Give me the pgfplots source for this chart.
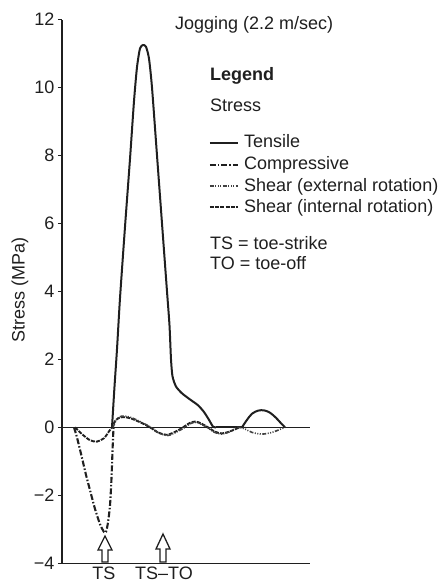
\documentclass[border=0pt]{standalone}
\usepackage{fontspec}
\setmainfont{Liberation Sans}
\usepackage{pgfplots}
\pgfplotsset{compat=1.18}

\definecolor{ink}{gray}{0.12}
\tikzset{
  tens/.style={ink,line width=2bp},
  comp/.style={ink,line width=2.1bp,dash pattern=on 6bp off 2bp on 1.5bp off 2bp},
  shext/.style={ink!85,line width=1.6bp,dash pattern=on 4bp off 1.5bp on 1bp off 1.5bp on 1bp off 1.5bp on 1bp off 1.5bp},
  shint/.style={ink,line width=1.9bp,dash pattern=on 4bp off 1.2bp},
}

\begin{document}
\begin{tikzpicture}[font=\fontsize{18bp}{21bp}\selectfont]
\begin{axis}[
  scale only axis, width=248bp, height=543.7bp,
  xmin=62, xmax=310, ymin=-4, ymax=12,
  axis lines*=left, axis line style={ink,line width=1.4bp},
  xtick=\empty,
  ytick={-4,-2,...,12},
  yticklabels={−4,−2,0,2,4,6,8,10,12},
  tick align=outside, major tick length=4bp,
  tick style={ink,line width=1bp},
  ticklabel style={ink,font=\fontsize{18bp}{21bp}\selectfont},
  clip=false,
]
% zero line
\draw[ink,line width=1.4bp] (axis cs:62,0) -- (axis cs:310,0);

% tensile
\addplot[tens,smooth,tension=0.4] coordinates {
  (112,0)(114.5,1.2)(117,2.3)(120,3.8)(125,5.9)(130,7.9)(134,9.6)(137,10.6)(140,11.15)
  (143,11.25)(146,11.2)(149,10.85)(152,10)(157,8)(162,6)(167,4)(169.5,3)
  (171,2)(172.5,1.5)(176,1.2)(182,1.0)(190,0.82)(198,0.65)(204,0.45)
  (209,0.22)(213,0.02)(216,0)};
\addplot[tens] coordinates {(216,0)(242,0)};
\addplot[tens,smooth] coordinates {
  (242,0)(247,0.22)(252,0.4)(258,0.49)(264,0.5)(270,0.43)(276,0.28)(281,0.12)(285,0)};

% compressive
\addplot[comp,smooth,tension=0.4] coordinates {
  (74,0)(77,-0.3)(82,-0.9)(86,-1.4)(90,-1.85)(95,-2.4)(100,-2.85)(104,-3.08)
  (106,-3.08)(108,-2.8)(110,-2.3)(111.5,-1.5)(112.5,-0.7)(113.5,0)};

% shear (internal rotation)
\addplot[shint,smooth] coordinates {
  (75,0)(82,-0.2)(90,-0.38)(97,-0.42)(104,-0.32)(109,-0.12)(112,0)
  (116,0.22)(122,0.3)(130,0.27)(140,0.15)(150,0)(158,-0.15)(167,-0.22)
  (176,-0.12)(183,0)(190,0.13)(196,0.17)(202,0.1)(208,0)(215,-0.13)
  (222,-0.18)(230,-0.12)(240,0)(245,0)};

% shear (external rotation)
\addplot[shext,smooth] coordinates {
  (113,0)(117,0.25)(122,0.33)(130,0.3)(140,0.17)(151,0)(159,-0.17)(168,-0.24)
  (177,-0.13)(185,0)(190,0.1)(195,0.15)(201,0.09)(207,0)(214,-0.14)
  (221,-0.2)(229,-0.14)(238,0)(245,-0.05)(252,-0.15)(262,-0.2)(272,-0.15)
  (280,-0.06)(285,0)};

\coordinate (O) at (axis cs:0,12.575);
\end{axis}

\begin{scope}[shift={(O)},x=1bp,y={(0bp,-1bp)},text=ink]
  % y label
  \node[rotate=90] at (20,290) {Stress (MPa)};
  % title
  \node[anchor=base west,inner sep=0] at (175,30) {Jogging (2.2 m/sec)};
  % legend
  \node[anchor=base west,inner sep=0] at (210,81) {\bfseries Legend};
  \node[anchor=base west,inner sep=0] at (210,112) {Stress};
  \draw[tens] (210,143) -- (238,143);
  \node[anchor=base west,inner sep=0] at (244,148) {Tensile};
  \draw[comp] (210,165) -- (238,165);
  \node[anchor=base west,inner sep=0] at (244,170) {Compressive};
  \draw[shext] (210,186) -- (238,186);
  \node[anchor=base west,inner sep=0] at (244,192) {Shear (external rotation)};
  \draw[shint] (210,207) -- (238,207);
  \node[anchor=base west,inner sep=0] at (244,213) {Shear (internal rotation)};
  \node[anchor=base west,inner sep=0] at (210,250) {TS = toe-strike};
  \node[anchor=base west,inner sep=0] at (210,270) {TO = toe-off};
  % event arrows
  \draw[ink,line width=1.3bp,fill=white]
    (105,536) -- (112,550) -- (108,550) -- (108,562) -- (102,562)
    -- (102,550) -- (98,550) -- cycle;
  \draw[ink,line width=1.3bp,fill=white]
    (163,534) -- (170,549) -- (166,549) -- (166,562) -- (160,562)
    -- (160,549) -- (156,549) -- cycle;
  \node[anchor=base,inner sep=0] at (104,580) {TS};
  \node[anchor=base,inner sep=0] at (164,580) {TS–TO};
\end{scope}

\pgfresetboundingbox
\path[use as bounding box] (O) rectangle ++(446bp,-585bp);
\end{tikzpicture}
\end{document}
